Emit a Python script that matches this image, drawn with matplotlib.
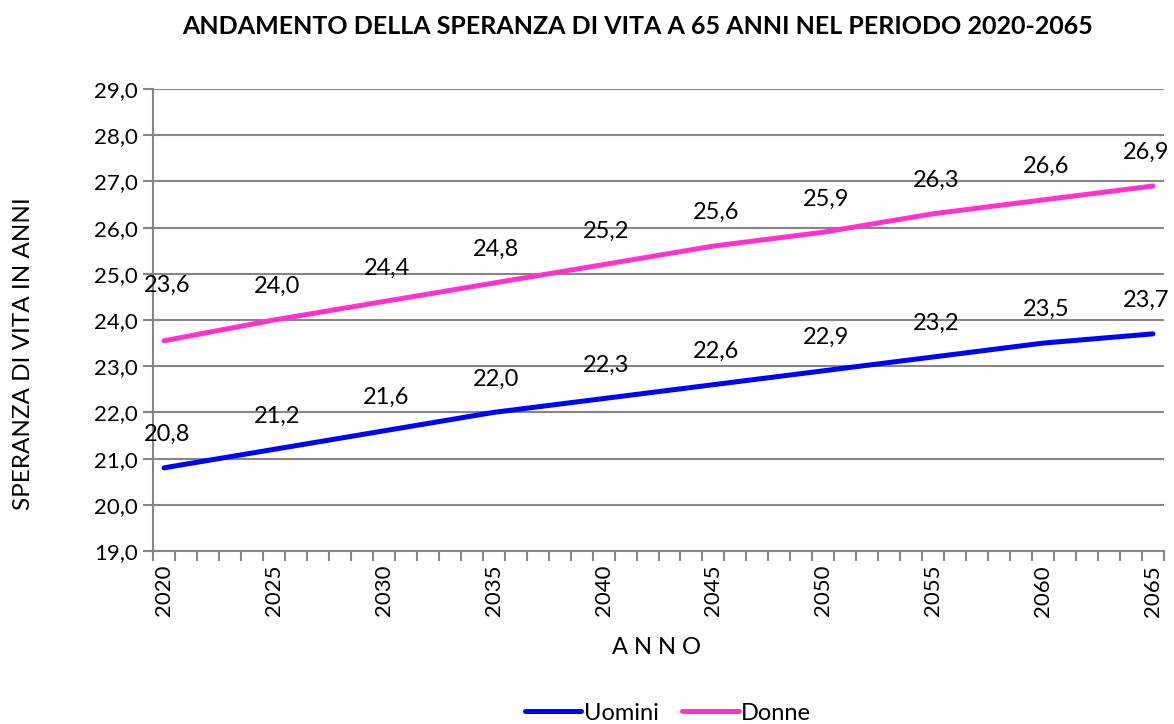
import matplotlib
matplotlib.use("Agg")
import matplotlib.pyplot as plt
from matplotlib.ticker import FixedLocator, FuncFormatter

plt.rcParams['font.family'] = ['Lato', 'DejaVu Sans']

anni = [2020, 2025, 2030, 2035, 2040, 2045, 2050, 2055, 2060, 2065]
uomini = [20.8, 21.2, 21.6, 22.0, 22.3, 22.6, 22.9, 23.2, 23.5, 23.7]
donne = [23.55, 24.0, 24.4, 24.8, 25.2, 25.6, 25.9, 26.3, 26.6, 26.9]

grigio = '#868686'
blu = '#0000FF'
rosa = '#FF33CC'

fig = plt.figure(figsize=(11.74, 7.24), dpi=100)
ax = fig.add_axes([153/1174, 1 - 551/724, (1164 - 153)/1174, (551 - 89)/724])

ax.plot(anni, uomini, color=blu, lw=3.6, solid_capstyle='round', label='Uomini')
ax.plot(anni, donne, color=rosa, lw=3.6, solid_capstyle='round', label='Donne')

# l'etichetta del 2020 delle donne sta più in alto nell'originale
spostati = {('Donne', 2020): 16}
for nome, serie in (('Uomini', uomini), ('Donne', donne)):
    for a, v in zip(anni, serie):
        dy = 24 + spostati.get((nome, a), 0)
        dx = -5 if a == anni[-1] else 2
        ax.annotate(f"{v:.1f}".replace('.', ','), (a, v), xytext=(dx, dy),
                    textcoords='offset points', ha='center', va='center',
                    fontsize=17)

ax.set_xlim(2019.5, 2065.5)
ax.set_ylim(19, 29)
ax.set_yticks(range(19, 30))
ax.yaxis.set_major_formatter(FuncFormatter(lambda v, p: f"{v:.1f}".replace('.', ',')))
ax.set_xticks(anni)
ax.set_xticklabels([str(a) for a in anni], rotation=90)
ax.xaxis.set_minor_locator(FixedLocator([y + 0.5 for y in range(2019, 2066)]))
ax.tick_params(axis='x', which='major', length=0, pad=10, labelsize=16)
ax.tick_params(axis='x', which='minor', length=7, width=1.5, color=grigio)
ax.tick_params(axis='y', length=7, width=1.5, color=grigio, labelsize=16, pad=4)

ax.grid(axis='y', color=grigio, lw=1.5)
ax.set_axisbelow(True)
for s in ('top', 'right'):
    ax.spines[s].set_visible(False)
for s in ('left', 'bottom'):
    ax.spines[s].set_color(grigio)
    ax.spines[s].set_linewidth(1.5)

fig.text(638/1174, 1 - 27/724, 'ANDAMENTO DELLA SPERANZA DI VITA A 65 ANNI NEL PERIODO 2020-2065',
         ha='center', va='center', fontsize=18, fontweight='bold')
fig.text(24/1174, 1 - 354/724, 'SPERANZA DI VITA IN ANNI', rotation=90,
         ha='center', va='center', fontsize=17.5)
fig.text(657/1174, 1 - 648/724, 'A N N O', ha='center', va='center', fontsize=17)

fig.legend(loc='center', bbox_to_anchor=(668/1174, 1 - 713/724), ncol=2, frameon=False,
           fontsize=17, handlelength=2.4, columnspacing=1.0, handletextpad=0.1)

fig.savefig('out.png', dpi=100)
